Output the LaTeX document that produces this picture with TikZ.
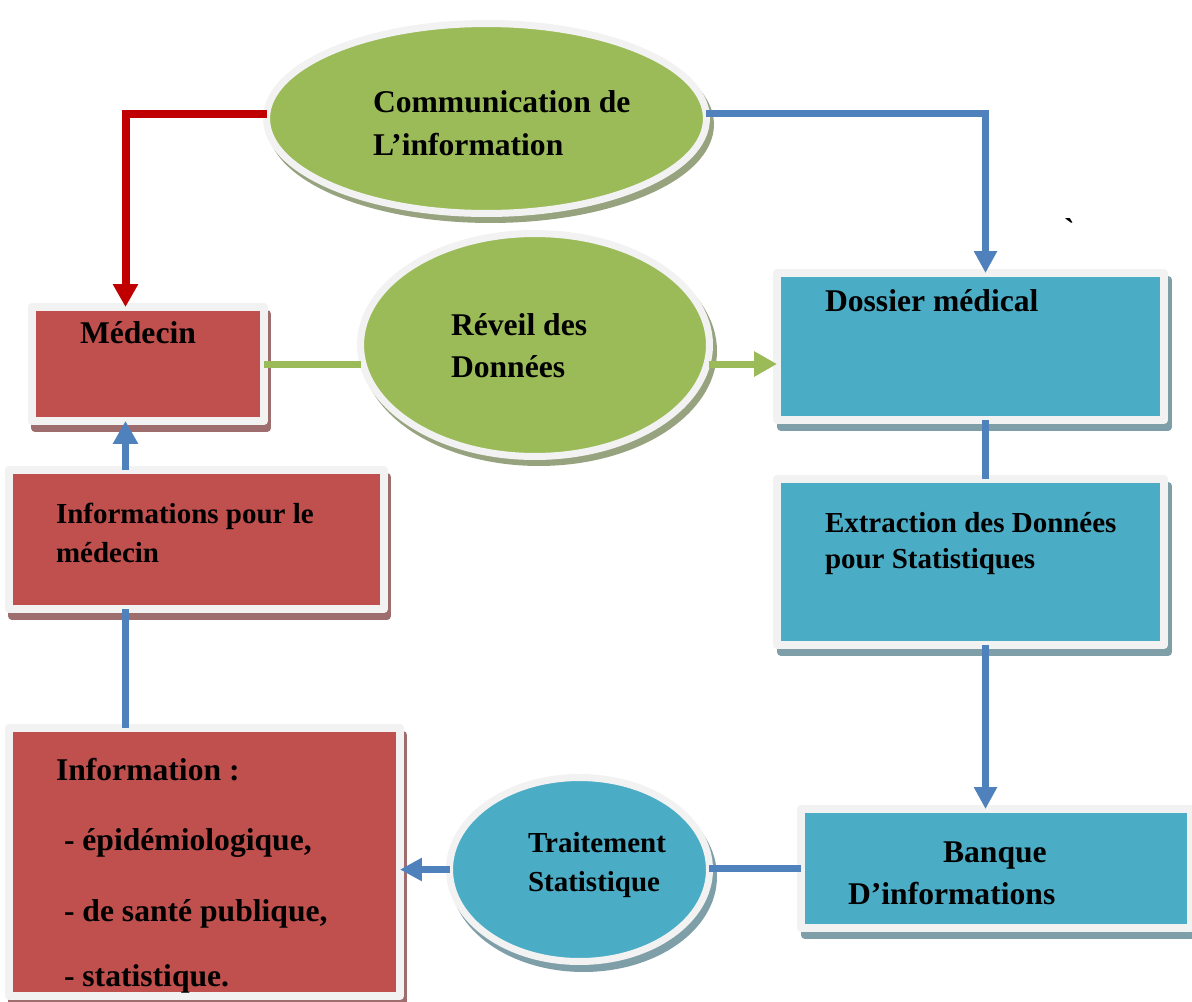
\documentclass[tikz,border=0pt]{standalone}
\usepackage{fontspec}
\setmainfont{Liberation Serif}
\usetikzlibrary{arrows.meta,shapes.geometric}
\newlength\pxu \setlength\pxu{0.02cm}
\definecolor{boxred}{HTML}{C0504D}
\definecolor{boxblue}{HTML}{4BACC6}
\definecolor{boxgreen}{HTML}{9BBB59}
\definecolor{framegray}{HTML}{F2F2F2}
\definecolor{linered}{HTML}{C00000}
\definecolor{lineblue}{HTML}{4F81BD}
\definecolor{linegreen}{HTML}{9BBB59}
\definecolor{shadred}{HTML}{9E6E6E}
\definecolor{shadblue}{HTML}{7F9FA8}
\definecolor{shadgreen}{HTML}{97A37F}
\begin{document}
\begin{tikzpicture}[x=0.02cm, y=-0.02cm,
  frame/.style={draw=framegray, line join=round, inner sep=0pt, outer sep=0pt},
  rbox/.style={frame, rectangle, line width=0.16cm, fill=boxred,
    preaction={fill=shadred, draw=shadred, line width=0.16cm, transform canvas={shift={(0.06cm,-0.14cm)}}}},
  bbox/.style={frame, rectangle, line width=0.16cm, fill=boxblue,
    preaction={fill=shadblue, draw=shadblue, line width=0.16cm, transform canvas={shift={(0.08cm,-0.14cm)}}}},
  gell/.style={frame, ellipse, line width=0.14cm, fill=boxgreen,
    preaction={fill=shadgreen, draw=shadgreen, line width=0.14cm, transform canvas={shift={(0.08cm,-0.12cm)}}}},
  bell/.style={frame, ellipse, line width=0.14cm, fill=boxblue,
    preaction={fill=shadblue, draw=shadblue, line width=0.14cm, transform canvas={shift={(0.08cm,-0.14cm)}}}},
  txt/.style={anchor=base west, inner sep=0pt, outer sep=0pt, font=\bfseries\fontsize{18}{21}\selectfont},
  stxt/.style={anchor=base west, inner sep=0pt, outer sep=0pt, font=\bfseries\fontsize{16.5}{19}\selectfont},
  redline/.style={draw=linered, line width=0.16cm},
  blueline/.style={draw=lineblue, line width=0.15cm},
  greenline/.style={draw=linegreen, line width=0.14cm},
  tipA/.style={-{Triangle[length=0.46cm,width=0.48cm]}},
  tipB/.style={-{Triangle[length=0.44cm,width=0.44cm]}}
]
\useasboundingbox[fill=white] (0,0) rectangle (1192,1001);

% nodes
\node[gell, minimum width=8.8cm, minimum height=3.8cm] (comm) at (486.5,118.5) {};
\node[gell, minimum width=6.98cm, minimum height=4.46cm] (rev) at (535,345) {};
\node[bell, minimum width=5.2cm, minimum height=3.68cm] (trt) at (579.5,869.5) {};
\node[rbox, minimum width=4.64cm, minimum height=2.28cm] (med) at (148,364) {};
\node[rbox, minimum width=7.5cm, minimum height=2.78cm] (inf2) at (196.5,539.5) {};
\node[rbox, minimum width=7.82cm, minimum height=5.36cm] (info) at (204.5,862) {};
\node[bbox, minimum width=7.74cm, minimum height=2.94cm] (dos) at (970.5,346.5) {};
\node[bbox, minimum width=7.74cm, minimum height=3.32cm] (ext) at (970.5,562) {};
\node[bbox, minimum width=7.8cm, minimum height=2.38cm] (ban) at (996,868.5) {};

% texts
\node[txt] (t-comm1) at (373,112) {Communication de};
\node[txt] (t-comm2) at (373,155) {L’information};
\node[txt] (t-rev1) at (451,335) {Réveil des};
\node[txt] (t-rev2) at (451,377) {Données};
\node[txt] (t-med) at (80,343) {Médecin};
\node[txt] (t-dos) at (825,311) {Dossier médical};
\node[stxt] (t-ext1) at (825,532) {Extraction des Données};
\node[stxt] (t-ext2) at (825,568) {pour Statistiques};
\node[txt] (t-ban1) at (943,862) {Banque};
\node[txt] (t-ban2) at (848,904) {D’informations};
\node[stxt] (t-trt1) at (528,852) {Traitement};
\node[stxt] (t-trt2) at (528,891) {Statistique};
\node[stxt] (t-inf1) at (56,523) {Informations pour le};
\node[stxt] (t-inf2) at (56,562) {médecin};
\node[txt] (t-info1) at (56,780) {Information :};
\node[txt] (t-info2) at (64,850) {- épidémiologique,};
\node[txt] (t-info3) at (64,921) {- de santé publique,};
\node[txt] (t-info4) at (64,986) {- statistique.};
\node[txt] (t-grave) at (1064,240) {\textasciigrave};

% connectors
\coordinate (spR) at (985.5,0);
\coordinate (spL) at (125.5,0);
\draw[redline, tipA] ([yshift=0.1cm]comm.west) -| (spL |- med.north);
\draw[blueline, tipB] ([yshift=0.1cm]comm.east) -| (spR |- dos.north);
\draw[greenline] (med.east) -- (med.east -| rev.west);
\draw[greenline, tipA] (med.east -| rev.east) -- (med.east -| dos.west);
\draw[blueline] (spR |- dos.south) -- (spR |- ext.north);
\draw[blueline, tipB] (spR |- ext.south) -- (spR |- ban.north);
\draw[blueline] (ban.west) -- (ban.west -| trt.east);
\draw[blueline, tipB] (trt.west) -- (trt.west -| info.east);
\draw[blueline] (spL |- info.north) -- (spL |- inf2.south);
\draw[blueline, tipA] (spL |- inf2.north) -- (spL |- med.south);
\end{tikzpicture}
\end{document}
